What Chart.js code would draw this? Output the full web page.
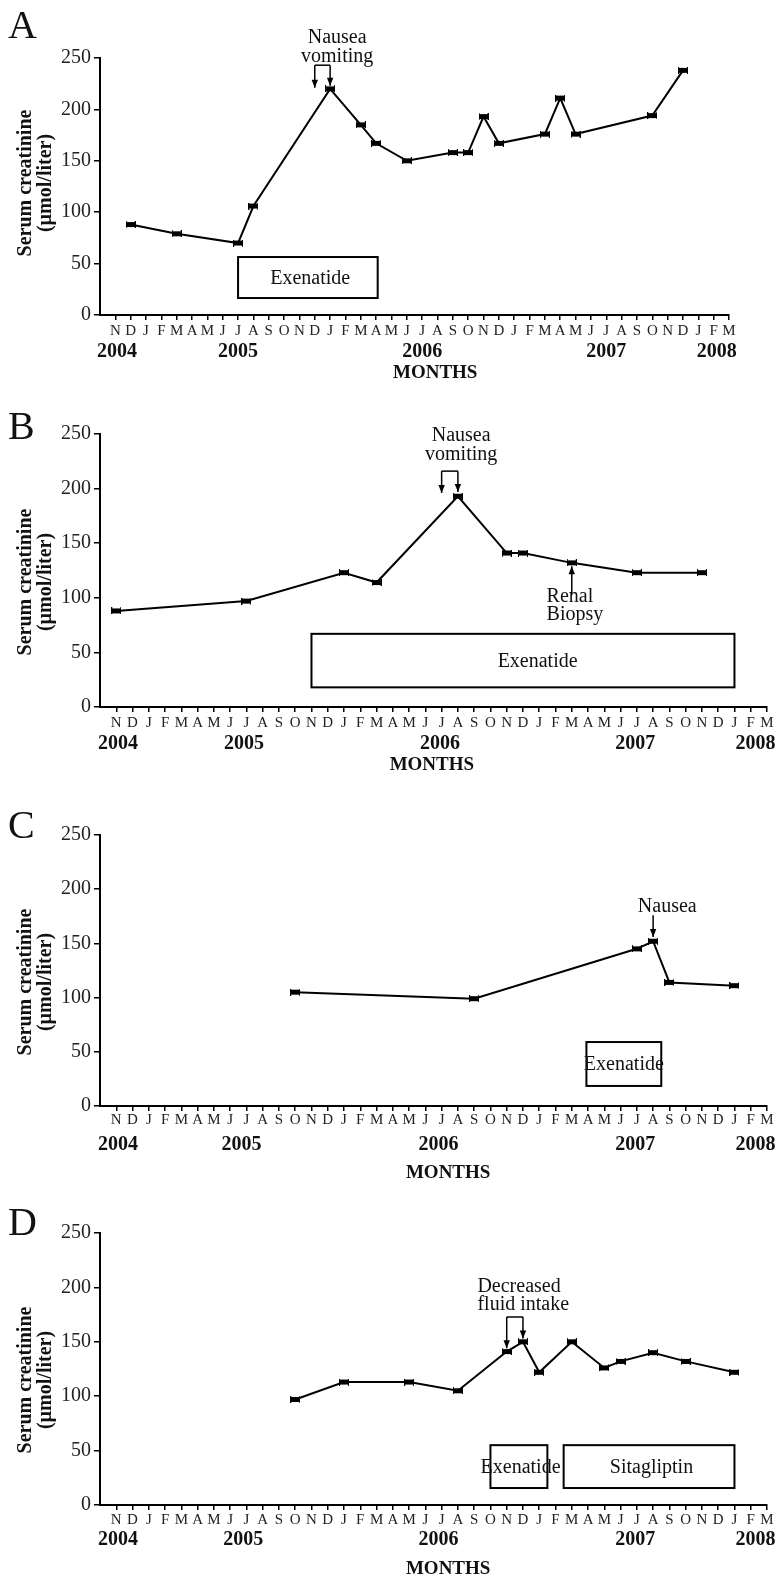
<!DOCTYPE html>
<html><head><meta charset="utf-8">
<script src="https://cdn.jsdelivr.net/npm/chart.js@4.4.1/dist/chart.umd.min.js"></script>
<style>
html,body{margin:0;padding:0;background:#fff;}
body{width:777px;height:1576px;position:relative;overflow:hidden;}
.panel{position:absolute;left:0;width:777px;}
canvas{display:block;}
</style></head><body>
<div class="panel" style="top:0px"><canvas id="cA" width="777" height="385"></canvas></div>
<div class="panel" style="top:380px"><canvas id="cB" width="777" height="396"></canvas></div>
<div class="panel" style="top:770px"><canvas id="cC" width="777" height="412"></canvas></div>
<div class="panel" style="top:1180px"><canvas id="cD" width="777" height="396"></canvas></div>
<script>
// ---------------- DATA ----------------
const MONTH_LABELS = ['N','D','J','F','M','A','M','J','J','A','S','O','N','D','J','F','M','A','M','J','J','A','S','O','N','D','J','F','M','A','M','J','J','A','S','O','N','D','J','F','M'];
const YEAR_LABELS = ['2004','2005','2006','2007','2008'];
const Y_TICKS = [0, 50, 100, 150, 200, 250];
const Y_TITLE = ['Serum creatinine', '(\u00b5mol/liter)'];
const X_TITLE = 'MONTHS';

const A_DATES  = ['2004-12','2005-03','2005-07','2005-08','2006-01','2006-03','2006-04','2006-06','2006-09','2006-10','2006-11','2006-12','2007-03','2007-04','2007-05','2007-10','2007-12'];
const A_VALUES = [88, 79, 70, 106, 220, 185, 167, 150, 158, 158, 193, 167, 176, 211, 176, 194, 238];

const B_DATES  = ['2004-11','2005-07','2006-01','2006-03','2006-08','2006-11','2006-12','2007-03','2007-07','2007-11'];
const B_VALUES = [88, 97, 123, 114, 193, 141, 141, 132, 123, 123];

const C_DATES  = ['2005-10','2006-09','2007-07','2007-08','2007-09','2008-01'];
const C_VALUES = [105, 99, 145, 152, 114, 111];

const D_DATES  = ['2005-10','2006-01','2006-05','2006-08','2006-11','2006-12','2007-01','2007-03','2007-05','2007-06','2007-08','2007-10','2008-01'];
const D_VALUES = [97, 113, 113, 105, 141, 150, 122, 150, 126, 132, 140, 132, 122];

// month index counted from November 2004 (= 0)
function monthIndex(s){ const [y,m] = s.split('-').map(Number); return (y-2004)*12 + (m-11); }

// ---------------- PANELS (layout / annotations) ----------------
const PANELS = [
 { id:'cA', letter:'A', dates:A_DATES, values:A_VALUES, H:385,
   area:{left:100, right:729, top:58, bottom:315},
   letterY:38, titleY:183, yearY:357, yearPos:[0.1,8.0,20.0,32.0,39.2], monthsX:20.85, monthsY:378, tickPad:2,
   boxes:[{label:'Exenatide', x0:8.0, x1:17.1, y0:16.5, y1:56.4, tx:12.7}],
   texts:[{lines:['Nausea','vomiting'], x:14.46, ys:[264.6,246], align:'center'}],
   brackets:[{x0:13, x1:14, top:243, tip0:221, tip1:223}],
   arrows:[] },
 { id:'cB', letter:'B', dates:B_DATES, values:B_VALUES, H:396,
   area:{left:100, right:767, top:54, bottom:327},
   letterY:59, titleY:202, yearY:369, yearPos:[0.1,7.85,19.9,31.9,39.3], monthsX:19.4, monthsY:390, tickPad:2,
   boxes:[{label:'Exenatide', x0:12, x1:38, y0:18, y1:67, tx:25.9}],
   texts:[{lines:['Nausea','vomiting'], x:21.2, ys:[243.6,226], align:'center'},
          {lines:['Renal','Biopsy'], x:26.45, ys:[96.4,79.7], align:'left'}],
   brackets:[{x0:20, x1:21, top:216, tip0:196, tip1:197}],
   arrows:[{x:28, from:102.6, to:129}] },
 { id:'cC', letter:'C', dates:C_DATES, values:C_VALUES, H:412,
   area:{left:100, right:767, top:65, bottom:336},
   letterY:68, titleY:212, yearY:380, yearPos:[0.1,7.7,19.8,31.9,39.3], monthsX:20.4, monthsY:408, tickPad:0,
   boxes:[{label:'Exenatide', x0:28.9, x1:33.5, y0:18.5, y1:59, tx:31.2}],
   texts:[{lines:['Nausea'], x:33.87, ys:[179], align:'center'}],
   brackets:[],
   arrows:[{x:33, from:176, to:156}] },
 { id:'cD', letter:'D', dates:D_DATES, values:D_VALUES, H:396,
   area:{left:100, right:767, top:53, bottom:325},
   letterY:55, titleY:200, yearY:365, yearPos:[0.1,7.8,19.8,31.9,39.3], monthsX:20.4, monthsY:394, tickPad:1,
   boxes:[{label:'Exenatide', x0:23, x1:26.5, y0:15.6, y1:55, tx:24.85},
          {label:'Sitagliptin', x0:27.5, x1:38, y0:15.6, y1:55, tx:32.9}],
   texts:[{lines:['Decreased','fluid intake'], x:22.2, ys:[196,179], align:'left'}],
   brackets:[{x0:24, x1:25, top:172.8, tip0:144, tip1:153}],
   arrows:[] }
];

const SERIF = '"Liberation Serif", "Times New Roman", serif';
Chart.defaults.font.family = SERIF;

// small filled marker
function makeMarker(){
  const c = document.createElement('canvas'); c.width = 10; c.height = 7;
  const g = c.getContext('2d'); g.fillStyle = '#000';
  g.fillRect(1,1,8,5); g.fillRect(0,0,1,7); g.fillRect(9,0,1,7);
  return c;
}
const MARKER = makeMarker();

function drawArrow(ctx, x, y1, y2){
  ctx.beginPath(); ctx.moveTo(x, y1); ctx.lineTo(x, y2); ctx.stroke();
  const dir = y2 > y1 ? 1 : -1;
  ctx.beginPath(); ctx.moveTo(x, y2); ctx.lineTo(x-3.2, y2 - dir*8); ctx.lineTo(x+3.2, y2 - dir*8); ctx.closePath(); ctx.fill();
}

function makeOverlay(p){
  return { id:'overlay', afterDraw(chart){
    const ctx = chart.ctx, xs = chart.scales.x, ys = chart.scales.y;
    const X = v => xs.getPixelForValue(v), Y = v => ys.getPixelForValue(v);
    ctx.save();
    ctx.fillStyle = '#111'; ctx.strokeStyle = '#000';
    // panel letter
    ctx.font = '40px ' + SERIF; ctx.textAlign = 'left'; ctx.textBaseline = 'alphabetic';
    ctx.fillText(p.letter, 8, p.letterY);
    // y title
    ctx.font = 'bold 20px ' + SERIF; ctx.textAlign = 'center'; ctx.textBaseline = 'middle';
    Y_TITLE.forEach((t, i) => { ctx.save(); ctx.translate(26 + i*20, p.titleY); ctx.rotate(-Math.PI/2); ctx.fillText(t, 0, 0); ctx.restore(); });
    // years
    ctx.font = 'bold 20px ' + SERIF; ctx.textBaseline = 'alphabetic';
    YEAR_LABELS.forEach((t, i) => ctx.fillText(t, X(p.yearPos[i]), p.yearY));
    ctx.font = 'bold 19px ' + SERIF;
    ctx.fillText(X_TITLE, X(p.monthsX), p.monthsY);
    // boxes
    ctx.lineWidth = 2;
    ctx.font = '20px ' + SERIF;
    p.boxes.forEach(b => {
      ctx.strokeRect(X(b.x0), Y(b.y1), X(b.x1)-X(b.x0), Y(b.y0)-Y(b.y1));
      ctx.textAlign = 'center'; ctx.textBaseline = 'middle';
      ctx.fillText(b.label, X(b.tx), (Y(b.y0)+Y(b.y1))/2 + 1);
    });
    // texts
    ctx.textBaseline = 'alphabetic';
    p.texts.forEach(t => { ctx.textAlign = t.align; t.lines.forEach((l, i) => ctx.fillText(l, X(t.x), Y(t.ys[i]))); });
    // brackets & arrows
    ctx.lineWidth = 1.5; ctx.fillStyle = '#000';
    p.brackets.forEach(b => {
      ctx.beginPath(); ctx.moveTo(X(b.x0), Y(b.top)); ctx.lineTo(X(b.x1), Y(b.top)); ctx.stroke();
      drawArrow(ctx, X(b.x0), Y(b.top), Y(b.tip0));
      drawArrow(ctx, X(b.x1), Y(b.top), Y(b.tip1));
    });
    p.arrows.forEach(a => drawArrow(ctx, X(a.x), Y(a.from), Y(a.to)));
    ctx.restore();
  }};
}

PANELS.forEach(p => {
  const pts = p.dates.map((d, i) => ({x: monthIndex(d), y: p.values[i]}));
  new Chart(document.getElementById(p.id), {
    type: 'line',
    data: { datasets: [{ data: pts, borderColor:'#000', borderWidth:2, tension:0,
      pointStyle: MARKER, pointRadius:5, pointBackgroundColor:'#000', pointBorderColor:'#000', clip:false }] },
    options: {
      responsive:false, animation:false, devicePixelRatio:1,
      layout:{ padding:{ left:0, top:p.area.top, right:777 - p.area.right, bottom:0 } },
      plugins:{ legend:{display:false}, tooltip:{enabled:false} },
      scales:{
        x:{ type:'linear', min:-1, max:40,
          afterBuildTicks: s => { s.ticks = MONTH_LABELS.map((_, i) => ({value:i})); },
          afterFit: s => { s.height = p.H - p.area.bottom; },
          ticks:{ autoSkip:false, maxRotation:0, minRotation:0, padding:p.tickPad, color:'#222', font:{size:15},
                  callback: v => MONTH_LABELS[v] ?? '' },
          grid:{ display:true, drawOnChartArea:false, drawTicks:true, tickLength:5, color:'#000', lineWidth:1.5 },
          border:{ display:true, color:'#000', width:2 } },
        y:{ min:0, max:250,
          afterBuildTicks: s => { s.ticks = Y_TICKS.map(v => ({value:v})); },
          afterFit: s => { s.width = p.area.left; },
          ticks:{ padding:3, color:'#222', font:{size:20} },
          grid:{ display:true, drawOnChartArea:false, drawTicks:true, tickLength:6, color:'#000', lineWidth:1.5 },
          border:{ display:true, color:'#000', width:2 } }
      }
    },
    plugins:[ makeOverlay(p) ]
  });
});
</script>
</body></html>
